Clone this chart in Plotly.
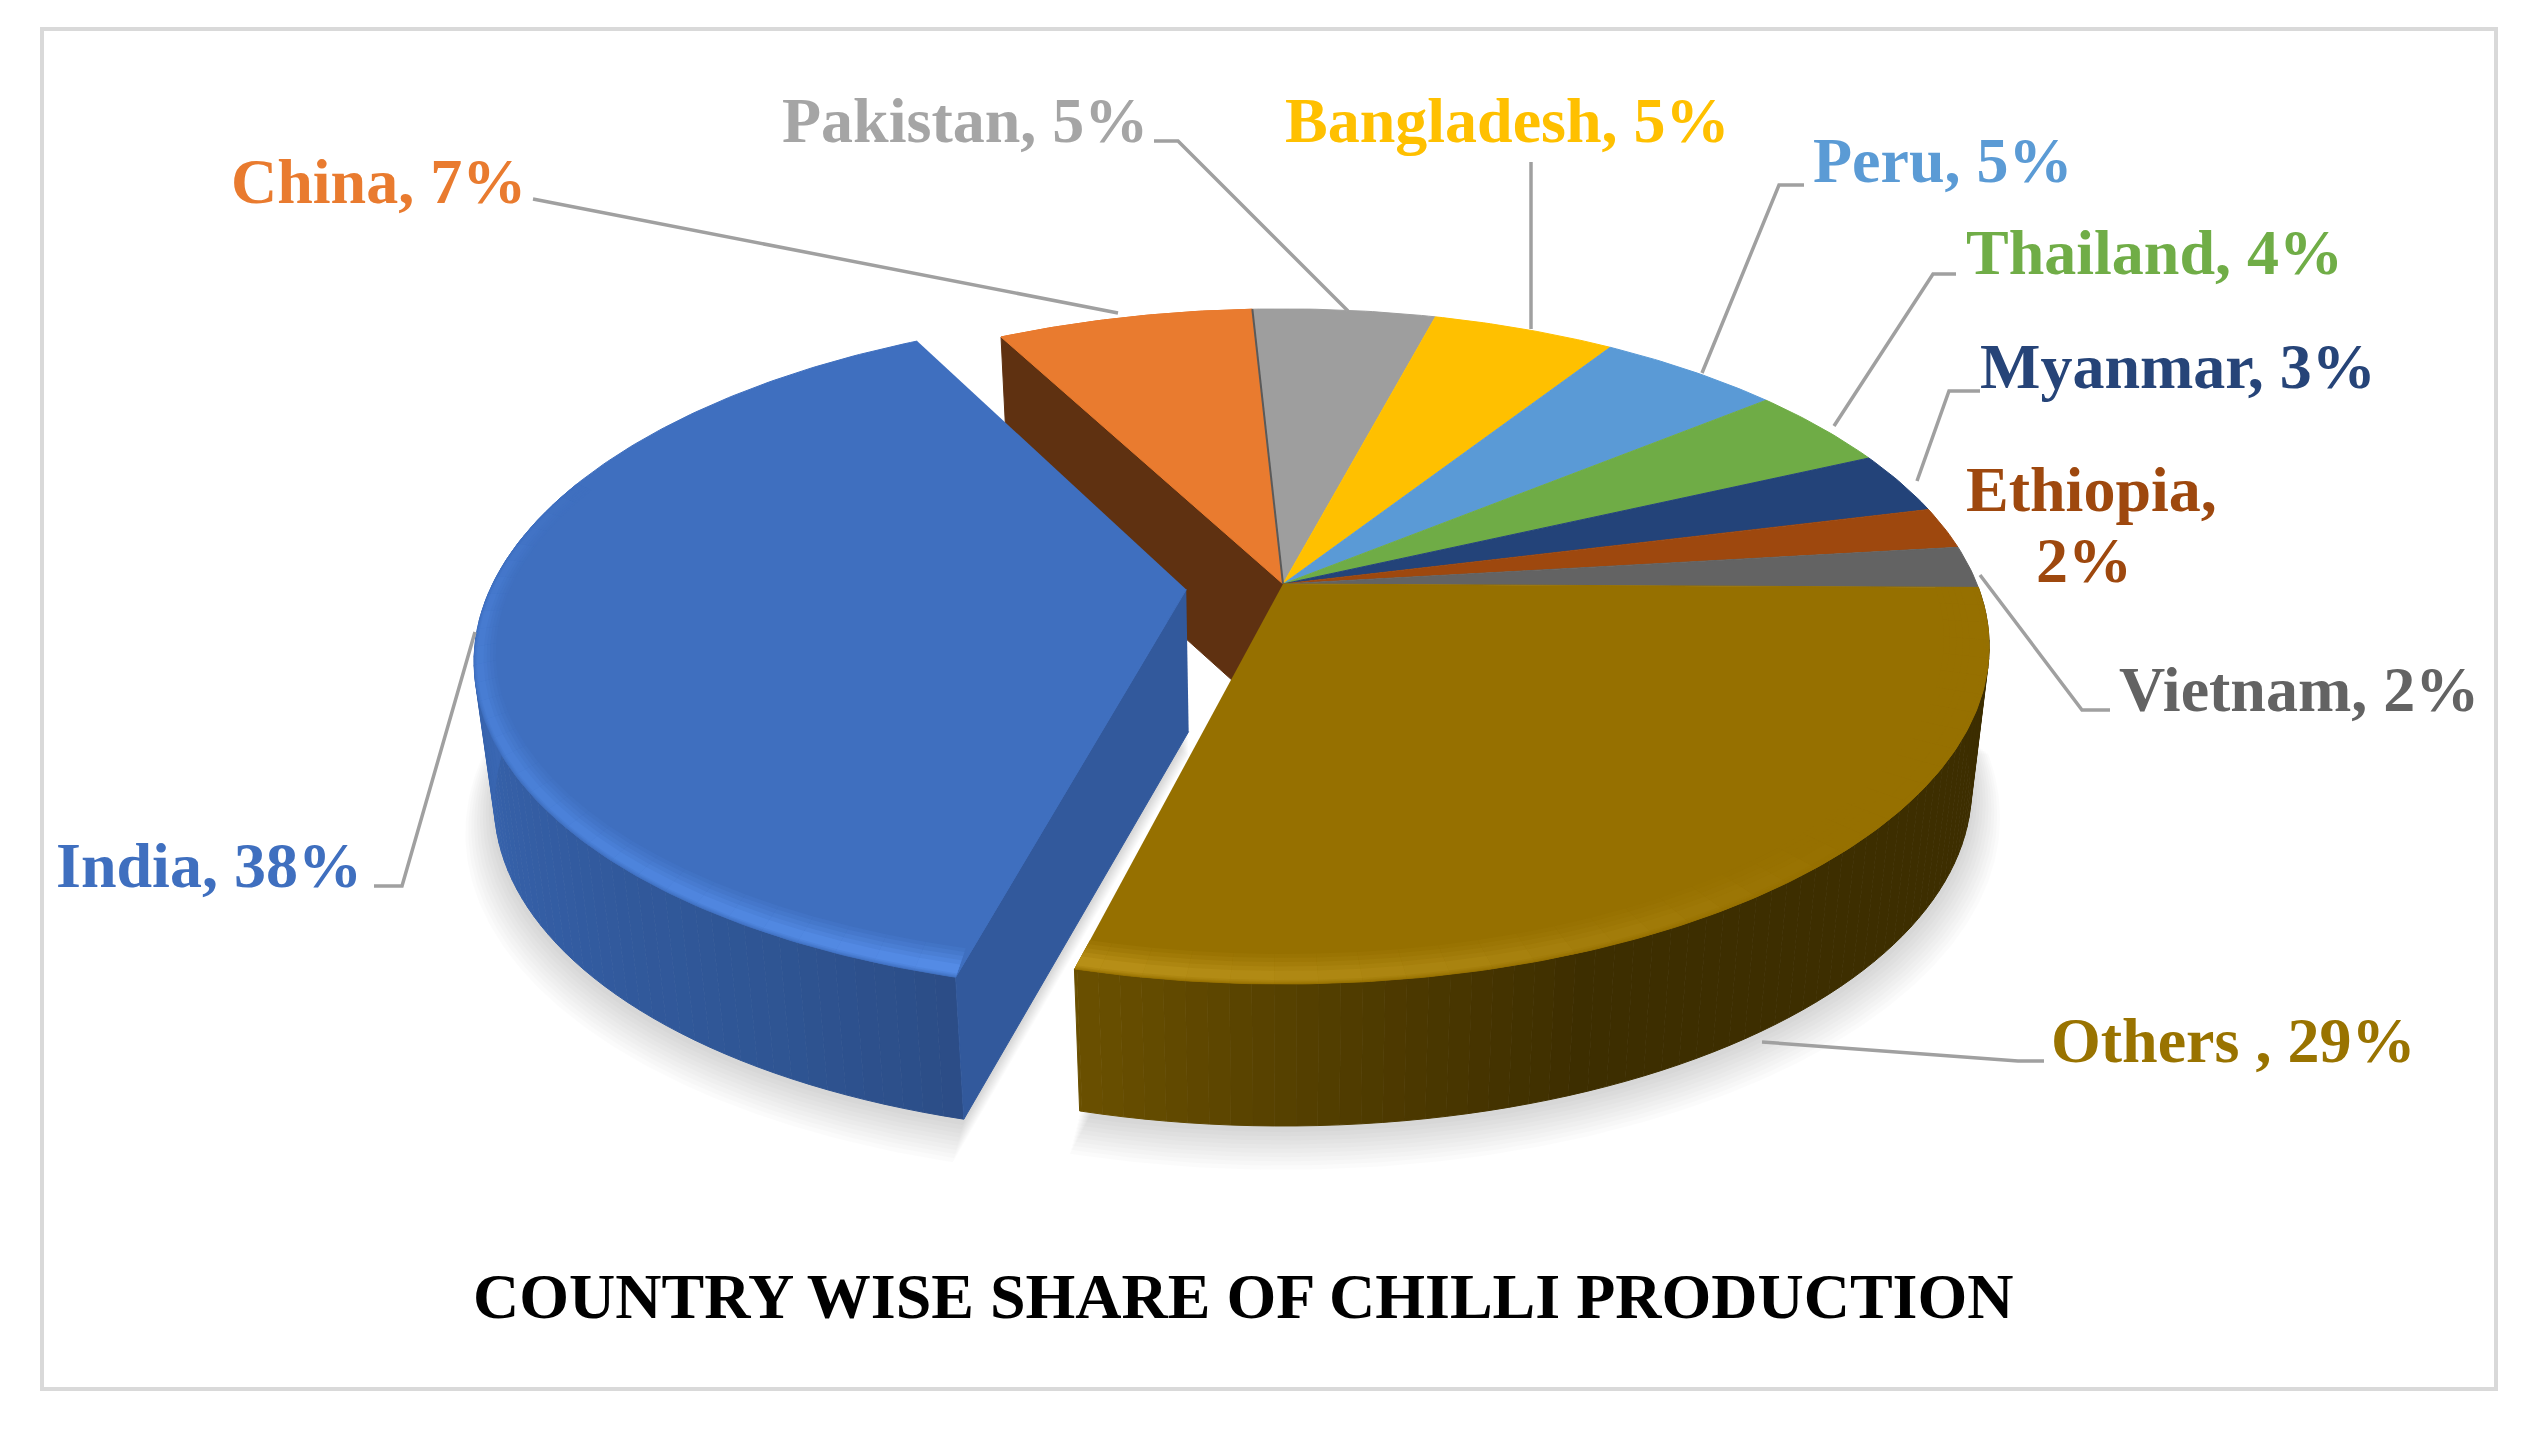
import numpy as np
import plotly.graph_objects as go

countries = ["India", "China", "Pakistan", "Bangladesh", "Peru", "Thailand", "Myanmar", "Ethiopia", "Vietnam", "Others"]
# shares; the printed labels round them to whole percents
shares = [38.2, 7, 5, 5, 5, 4, 3, 2, 2, 28.8]
top_colors = ["#3f6fbf", "#e97b2f", "#9e9e9e", "#ffc000", "#5a9ad6", "#6fac46", "#234379", "#9e480e", "#636363", "#967000"]
label_colors = ["#3f6fbf", "#e97b2f", "#a5a5a5", "#ffc000", "#5b9bd5", "#70ad47", "#264478", "#9e480e", "#636363", "#997300"]
title_text = "COUNTRY WISE SHARE OF CHILLI PRODUCTION"

W, H = 2541, 1434
PAGE_MARGIN = 8
CX, CY = 1283, 584
RX, RY, K = 694, 326, 0.185
THICK, LOW_SX = 142, 0.975
PULL = 0.14
ROTATION = 0.6
FONT = "Liberation Serif"
FS = 64
LEAD = "#a0a0a0"


def project(x, y, lower=False):
    x, y = np.asarray(x, float), np.asarray(y, float)
    w = 1 - K * y
    X, Y = RX * x / w, RY * y / w
    if lower:
        X, Y = X * LOW_SX, Y + THICK
    return CX + X, CY + Y


def rim(a0, a1, off=(0, 0), r=1.0, rx=None):
    a = np.radians(np.linspace(a0, a1, max(3, int(abs(a1 - a0) * 1.5))))
    rx = r if rx is None else rx
    return rx * np.cos(a) + off[0], r * np.sin(a) + off[1]


def hex2rgb(h):
    return np.array([int(h[i:i + 2], 16) for i in (1, 3, 5)], float)


def ramp(stops, a, blend=1.0, base=None):
    ang = [s[0] for s in stops]
    cols = np.array([hex2rgb(s[1]) for s in stops])
    c = np.array([np.interp(a, ang, cols[:, i]) for i in range(3)])
    if base is not None:
        c = hex2rgb(base) + blend * (c - hex2rgb(base))
    return "rgb(%d,%d,%d)" % tuple(c)


def poly(fig, xs, ys, color, name=None, opacity=1.0, edge=True):
    fig.add_trace(go.Scatter(
        x=list(xs), y=list(ys), mode="lines", fill="toself", fillcolor=color, opacity=opacity,
        line=dict(color=color, width=1 if edge else 0), hoverinfo="skip" if name is None else "name",
        name=name or "", showlegend=False))


# slice angles, clockwise from the right-hand side; Others starts just below the horizontal
others_deg = shares[-1] / sum(shares) * 360
spans = {}
a = others_deg + ROTATION
for n, v in zip(countries[:-1], shares[:-1]):
    spans[n] = (a, a + v / sum(shares) * 360)
    a += v / sum(shares) * 360
spans["Others"] = (ROTATION, ROTATION + others_deg)
col = dict(zip(countries, top_colors))
mid = np.radians(sum(spans["India"]) / 2)
india_off = (PULL * np.cos(mid), PULL * np.sin(mid))

fig = go.Figure()

# soft shadow
for i in range(10, 0, -1):
    for n, off in (("Others", (0, 0)), ("India", india_off)):
        a0, a1 = spans[n]
        r = 1 + 0.004 * i
        x, y = rim(a0, a1, off, r)
        x = np.r_[off[0], x]
        y = np.r_[off[1], y]
        X, Y = project(x, y, True)
        poly(fig, X, Y + 2 + 2.2 * i, "#000000", opacity=0.016, edge=False)

# back slices
for n in countries[1:-1]:
    x, y = rim(*spans[n])
    X, Y = project(np.r_[0, x], np.r_[0, y])
    poly(fig, X, Y, col[n], n)

# China cut wall
ca = np.radians(spans["China"][0])
ex, ey = np.cos(ca), np.sin(ca)
X1, Y1 = project([0, ex], [0, ey])
X2, Y2 = project([ex, 0], [ey, 0], True)
poly(fig, np.r_[X1, X2], np.r_[Y1, Y2], "#5f3111")
x, y = rim(*spans["China"])
X, Y = project(np.r_[0, x], np.r_[0, y])
poly(fig, X, Y, col["China"], "China")
# dark seam on the Pakistan side of China
pa = np.radians(spans["Pakistan"][0])
Xs, Ys = project([0, np.cos(pa)], [0, np.sin(pa)])
fig.add_trace(go.Scatter(x=Xs, y=Ys, mode="lines", line=dict(color="#5a5a5a", width=2),
                         hoverinfo="skip", showlegend=False))


def edges_of(a0, a1, step):
    e = np.arange(a0, a1 + 1e-6, step)
    return np.r_[e, a1] if e[-1] < a1 else e


def side(off, stops, a0, a1, step=1.5):
    edges = edges_of(a0, a1, step)
    for s, e in zip(edges[:-1], edges[1:]):
        x, y = rim(s, e, off)
        Xt, Yt = project(x, y)
        Xb, Yb = project(x, y, True)
        poly(fig, np.r_[Xt, Xb[::-1]], np.r_[Yt, Yb[::-1]], ramp(stops, (s + e) / 2))


def bevel(off, base, stops, a0, a1, xfac, step=3.0):
    # nested rings just inside the rim: thickest at the front, lighter toward the middle of the band
    layers = [(1.000, 0.938, 0.18), (0.999, 0.946, 0.36), (0.997, 0.955, 0.56),
              (0.995, 0.964, 0.78), (0.992, 0.973, 1.0)]
    edges = edges_of(a0, a1, step)
    for ro, ri, blend in layers:
        for s, e in zip(edges[:-1], edges[1:]):
            xo, yo = rim(s, e, off, ro, 1 - (1 - ro) * xfac)
            xi, yi = rim(s, e, off, ri, 1 - (1 - ri) * xfac)
            X, Y = project(np.r_[xo, xi[::-1]], np.r_[yo, yi[::-1]])
            poly(fig, X, Y, ramp(stops, (s + e) / 2, blend, base), edge=False)


# Others body
o0, o1 = spans["Others"]
side((0, 0), [(0, "#3d2e00"), (68, "#3d2e00"), (85, "#503c00"), (o1, "#6b5100")], o0, o1)
x, y = rim(o0, o1)
X, Y = project(np.r_[0, x], np.r_[0, y])
poly(fig, X, Y, col["Others"], "Others")
bevel((0, 0), col["Others"], [(0, "#967000"), (45, "#967000"), (75, "#a8820f"), (o1, "#b89018")], o0, o1, 1.0)

# India body
i0, i1 = spans["India"]
side(india_off, [(i0, "#2c4d87"), (118, "#2f5593"), (140, "#335ca1"), (165, "#3864ae"), (195, "#3f6fbf")], i0, 200)
wa = np.radians(i0)
wx, wy = np.cos(wa) + india_off[0], np.sin(wa) + india_off[1]
Xt, Yt = project([india_off[0], wx], [india_off[1], wy])
Xb, Yb = project([wx, india_off[0]], [wy, india_off[1]], True)
poly(fig, np.r_[Xt, Xb], np.r_[Yt, Yb], "#32599c")
x, y = rim(i0, i1, india_off)
X, Y = project(np.r_[india_off[0], x], np.r_[india_off[1], y])
poly(fig, X, Y, col["India"], "India")
bevel(india_off, col["India"], [(i0, "#558ce6"), (140, "#4c82da"), (175, "#477bd0"), (200, "#3f6fbf")], i0, 200, 0.45)

# leader lines
leaders = [
    [(533, 199), (1118, 313)],
    [(1154, 141), (1178, 141), (1348, 311)],
    [(1531, 162), (1531, 329)],
    [(1804, 185), (1779, 185), (1702, 373)],
    [(1956, 274), (1933, 274), (1834, 426)],
    [(1980, 391), (1949, 391), (1917, 481)],
    [(2110, 710), (2082, 710), (1980, 575)],
    [(2044, 1061), (2018, 1061), (1762, 1042)],
    [(374, 886), (402, 886), (475, 632)],
]
for pts in leaders:
    fig.add_trace(go.Scatter(x=[p[0] for p in pts], y=[p[1] for p in pts], mode="lines",
                             line=dict(color=LEAD, width=3.5), hoverinfo="skip", showlegend=False))

# labels: text, left x, centre y, colour index
label_rows = [
    ("India, 38%", 54, 865, 0), ("China, 7%", 229, 181, 1), ("Pakistan, 5%", 780, 120, 2),
    ("Bangladesh, 5%", 1283, 120, 3), ("Peru, 5%", 1811, 160, 4), ("Thailand, 4%", 1964, 252, 5),
    ("Myanmar, 3%", 1978, 366, 6), ("Ethiopia,", 1964, 489, 7), ("2%", 2034, 560, 7),
    ("Vietnam, 2%", 2117, 689, 8), ("Others , 29%", 2049, 1040, 9),
]
annotations = [dict(x=lx, y=ly, xref="x", yref="y", text="<b>%s</b>" % t, showarrow=False, xanchor="left",
                    yanchor="middle", font=dict(family=FONT, size=FS, color=label_colors[ci]), align="left")
               for t, lx, ly, ci in label_rows]
annotations.append(dict(x=1243, y=1296, xref="x", yref="y", text="<b>%s</b>" % title_text, showarrow=False,
                        xanchor="center", yanchor="middle", font=dict(family=FONT, size=FS, color="#000000")))

fig.update_layout(
    width=W - 2 * PAGE_MARGIN, height=H - 2 * PAGE_MARGIN, margin=dict(l=0, r=0, t=0, b=0),
    paper_bgcolor="white", plot_bgcolor="white", showlegend=False, annotations=annotations,
    xaxis=dict(range=[PAGE_MARGIN, W - PAGE_MARGIN], visible=False, fixedrange=True),
    yaxis=dict(range=[H - PAGE_MARGIN, PAGE_MARGIN], visible=False, fixedrange=True),
    shapes=[dict(type="rect", xref="x", yref="y", x0=42, y0=29, x1=2496, y1=1389,
                 line=dict(color="#d9d9d9", width=4), layer="below")],
)
fig.write_html("out.html")
